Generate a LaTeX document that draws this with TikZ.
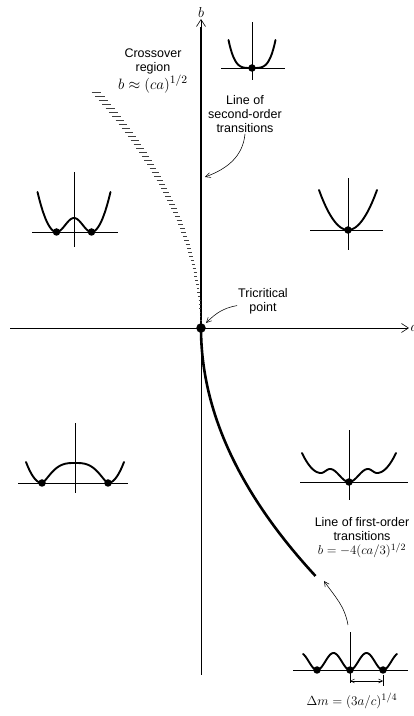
\documentclass[tikz,border=0pt]{standalone}
\usepackage[no-math]{fontspec}
\setmainfont{Liberation Sans}
\usetikzlibrary{arrows.meta}
\tikzset{
  axe/.style={line width=0.6pt, -{Straight Barb[length=7pt,width=9pt]}},
  ligne/.style={line width=2.6pt},
  courbe/.style={line width=1.9pt, line join=round, line cap=round},
  repere/.style={line width=0.55pt},
  pastille/.style={circle, fill=black, inner sep=0pt, minimum size=7.5pt},
  fleche/.style={line width=0.55pt, -{Straight Barb[length=5pt,width=5pt]}},
  hachure/.style={line width=0.7pt, black!75},
  etiquette/.style={font=\fontsize{12.5}{14}\selectfont, align=center, inner sep=1pt},
}
\begin{document}
\begin{tikzpicture}[x=1pt, y=1pt, declare function={carre(\t)=(\t)*(\t);}]
  \useasboundingbox[fill=white] (0,0) rectangle (414,716);

  % axes
  \coordinate (origine) at (201,388);
  \coordinate (bbas) at (201,41);
  \coordinate (bhaut) at (201,697);
  \coordinate (agauche) at (10,388);
  \coordinate (adroite) at (409,388);
  \draw[axe] (bbas) -- (bhaut);
  \draw[axe] (agauche) -- (adroite);
  \node[etiquette, anchor=south] (lb) at (bhaut) {\scalebox{1.2}{$b$}};
  \node[etiquette, anchor=west] (la) at (409.5,388) {\scalebox{1.2}{$a$}};

  % ligne du second ordre
  \draw[ligne] (origine) -- (201,689);

  % zone de crossover
  \foreach \t in {8,12,...,236} {
    \pgfmathsetmacro\hx{201-0.00187*\t*\t}
    \pgfmathsetmacro\hl{0.5+4.3*\t/236}
    \draw[hachure] (\hx-\hl,388+\t) -- (\hx+\hl,388+\t);
  }

  % ligne du premier ordre
  \draw[ligne] plot[domain=0:248, samples=60] ({201+0.001854*\x*\x}, {388-\x});
  \node[pastille, minimum size=9.5pt] (tc) at (origine) {};

  % textes
  \node[etiquette] (cross) at (153,645) {Crossover\\ region\\ \scalebox{1.25}{$b\approx(ca)^{1/2}$}};
  \node[etiquette] (second) at (245,602) {Line of\\ second-order\\ transitions};
  \node[etiquette] (tricrit) at (263,415) {Tricritical\\ point};
  \node[etiquette] (premier) at (362,178) {Line of first-order\\ transitions\\ \scalebox{1.07}{$b=-4(ca/3)^{1/2}$}};
  \node[etiquette] (delta) at (352,15) {\scalebox{1.1}{$\Delta m=(3a/c)^{1/4}$}};

  \coordinate (pointe2) at (205,539);
  \coordinate (pied1) at (348,91);
  \coordinate (pointe1) at (324,135);
  \draw[fleche] (second.south) to[out=-95, in=20] (pointe2);
  \draw[fleche] (tricrit.190) to[out=190, in=45] ([shift={(5pt,5pt)}]tc.center);
  \draw[fleche] (pied1) to[out=100, in=-55] (pointe1);

  % potentiels
  \begin{scope}[shift={(252,648)}]
    \draw[repere] (0,-12) -- (0,46);
    \draw[repere] (-31,0) -- (33,0);
    \draw[courbe] plot[domain=-23.5:23.5, samples=61] (\x, {28*(abs(\x)/23.5)^4});
    \node[pastille] (m1) at (0,0) {};
  \end{scope}

  \begin{scope}[shift={(348,486)}]
    \draw[repere] (0,-20) -- (0,52);
    \draw[repere] (-38,0) -- (35,0);
    \draw[courbe] plot[domain=-29:29, samples=61] (\x, {40*carre(\x/29)});
    \node[pastille] (m2) at (0,0) {};
  \end{scope}

  \begin{scope}[shift={(74,484)}]
    \draw[repere] (0,-15) -- (0,60);
    \draw[repere] (-42,0) -- (44,0);
    \draw[courbe] plot[domain=-36.5:36.5, samples=91]
      (\x, {abs(\x)<17.5 ? 14*carre(cos(180*\x/35)) : 40*carre((abs(\x)-17.5)/19)});
    \node[pastille] (m3g) at (-17.5,0) {};
    \node[pastille] (m3d) at (17.5,0) {};
  \end{scope}

  \begin{scope}[shift={(75,233)}]
    \draw[repere] (0,-10) -- (0,60);
    \draw[repere] (-57,0) -- (53,0);
    \draw[courbe] plot[domain=-49:49, samples=99]
      (\x, {abs(\x)<33 ? 20*max(0,1-(abs(\x)/33)^3)^1.5 : 21*carre((abs(\x)-33)/16)});
    \node[pastille] (m4g) at (-33,0) {};
    \node[pastille] (m4d) at (33,0) {};
  \end{scope}

  \begin{scope}[shift={(349,234)}]
    \draw[repere] (0,-18) -- (0,52);
    \draw[repere] (-49,0) -- (59,0);
    \draw[courbe] plot[domain=-47:47, samples=121]
      (\x, {abs(\x)<19 ? 13*carre(sin(180*\x/38)) : (abs(\x)<28 ? 9+4*carre(cos(180*(abs(\x)-19)/18)) : 9+20*carre((abs(\x)-28)/19))});
    \node[pastille] (m5) at (0,0) {};
  \end{scope}

  \begin{scope}[shift={(350,46)}]
    \draw[repere] (0,-13) -- (0,38);
    \draw[repere] (-57,0) -- (58,0);
    \draw[courbe] plot[domain=-47:47, samples=121] (\x, {17*carre(sin(180*\x/33))});
    \node[pastille] (m6g) at (-33,0) {};
    \node[pastille] (m6c) at (0,0) {};
    \node[pastille] (m6d) at (33,0) {};
    \draw[repere] (33,-5) -- (33,-16);
    \draw[repere, {Straight Barb[length=4pt,width=4pt]}-{Straight Barb[length=4pt,width=4pt]}] (0,-11) -- (33,-11);
  \end{scope}
\end{tikzpicture}
\end{document}
